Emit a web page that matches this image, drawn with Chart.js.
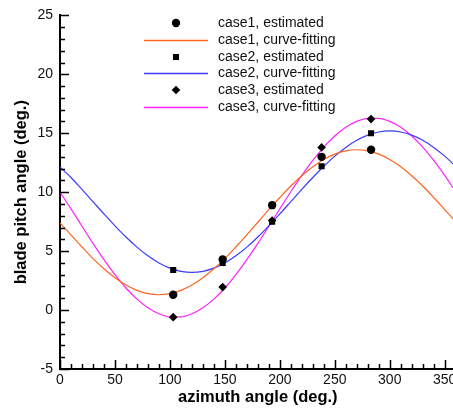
<!DOCTYPE html>
<html>
<head>
<meta charset="utf-8">
<script src="https://cdn.jsdelivr.net/npm/chart.js@4/dist/chart.umd.min.js"></script>
<style>
  html, body { margin: 0; padding: 0; background: #fff; overflow: hidden; }
  #wrap { position: relative; width: 460px; height: 409px; }
</style>
</head>
<body>
<div id="wrap"><canvas id="c"></canvas></div>
<script>
// ---- data ----
const seriesLabels = [
  'case1, estimated', 'case1, curve-fitting',
  'case2, estimated', 'case2, curve-fitting',
  'case3, estimated', 'case3, curve-fitting'
];
const estAzimuth = [103, 148, 193, 238, 283];
const case1Est = [1.3, 4.3, 8.9, 13.0, 13.6];
const case2Est = [3.4, 4.0, 7.5, 12.2, 15.0];
const case3Est = [-0.6, 1.95, 7.6, 13.8, 16.2];

const fitAzimuth = [0, 10, 20, 30, 40, 50, 60, 70, 80, 90, 100, 110, 120, 130, 140, 150, 160, 170, 180,
  190, 200, 210, 220, 230, 240, 250, 260, 270, 280, 290, 300, 310, 320, 330, 340, 350, 360];
const case1Fit = [7.4, 6.38, 5.35, 4.37, 3.5, 2.74, 2.12, 1.67, 1.39, 1.3, 1.39, 1.67, 2.12, 2.74, 3.5, 4.37, 5.35, 6.38, 7.45,
  8.52, 9.55, 10.53, 11.4, 12.16, 12.78, 13.23, 13.51, 13.6, 13.51, 13.23, 12.78, 12.16, 11.4, 10.53, 9.55, 8.52, 7.5];
const case2Fit = [12.15, 11.25, 10.24, 9.2, 8.16, 7.15, 6.2, 5.34, 4.6, 4.0, 3.56, 3.29, 3.2, 3.29, 3.56, 4.0, 4.6, 5.34, 6.2,
  7.15, 8.16, 9.2, 10.24, 11.25, 12.2, 13.06, 13.8, 14.4, 14.84, 15.11, 15.2, 15.11, 14.84, 14.4, 13.8, 13.06, 12.2];
const case3Fit = [10.0, 8.59, 7.11, 5.66, 4.28, 3.0, 1.87, 0.93, 0.19, -0.31, -0.57, -0.57, -0.31, 0.19, 0.93, 1.87, 3.0, 4.28, 5.66,
  7.11, 8.59, 10.04, 11.42, 12.7, 13.83, 14.77, 15.51, 16.01, 16.27, 16.27, 16.01, 15.51, 14.77, 13.83, 12.7, 11.42, 10.04];

const xTickValues = [0, 50, 100, 150, 200, 250, 300, 350];
const yTickValues = [-5, 0, 5, 10, 15, 20, 25];

// ---- build chart ----
const toPts = (xs, ys) => xs.map((x, i) => ({ x: x, y: ys[i] }));
const colors = { c1: '#ff6420', c2: '#3c3cff', c3: '#ff22ff' };

function estSet(label, ys, style, r) {
  return { label, data: toPts(estAzimuth, ys), showLine: false, pointStyle: style,
    pointRadius: r, pointBackgroundColor: '#000', pointBorderColor: '#000', pointBorderWidth: 0, order: 0 };
}
function fitSet(label, ys, color) {
  return { label, data: toPts(fitAzimuth, ys), showLine: true, pointRadius: 0, borderColor: color,
    borderWidth: 1.2, cubicInterpolationMode: 'monotone', order: 1, legendColor: color };
}

const datasets = [
  estSet(seriesLabels[0], case1Est, 'circle', 4.2),
  fitSet(seriesLabels[1], case1Fit, colors.c1),
  estSet(seriesLabels[2], case2Est, 'rect', 4.3),
  fitSet(seriesLabels[3], case2Fit, colors.c2),
  estSet(seriesLabels[4], case3Est, 'rectRot', 4.3),
  fitSet(seriesLabels[5], case3Fit, colors.c3)
];

const tickPlugin = {
  id: 'inwardTicks',
  afterDraw(chart) {
    const ctx = chart.ctx, xs = chart.scales.x, ys = chart.scales.y;
    const ca = chart.chartArea;
    ctx.save();
    ctx.strokeStyle = '#000';
    ctx.lineWidth = 1.5;
    ctx.beginPath();
    for (let v = ys.min; v <= ys.max; v += 1) {
      const y = Math.round(ys.getPixelForValue(v)) + 0.5;
      const len = yTickValues.includes(v) ? 9 : 5;
      ctx.moveTo(ca.left, y); ctx.lineTo(ca.left + len, y);
    }
    for (let v = xs.min; v <= xs.max; v += 10) {
      const x = Math.round(xs.getPixelForValue(v)) + 0.5;
      const len = xTickValues.includes(v) ? 9 : 5;
      ctx.moveTo(x, ca.bottom); ctx.lineTo(x, ca.bottom - len);
    }
    ctx.stroke();
    ctx.restore();
  }
};

const legendPlugin = {
  id: 'innerLegend',
  afterDraw(chart) {
    const ctx = chart.ctx;
    const x0 = 144, x1 = 208, xc = 176, tx = 218, y0 = 23, dy = 16.8;
    ctx.save();
    ctx.font = '14px "Liberation Sans", Arial, sans-serif';
    ctx.textBaseline = 'middle';
    ctx.textAlign = 'left';
    chart.data.datasets.forEach((ds, i) => {
      const y = Math.round(y0 + i * dy);
      if (ds.showLine) {
        ctx.strokeStyle = ds.legendColor;
        ctx.lineWidth = 1.3;
        ctx.beginPath(); ctx.moveTo(x0, y + 0.5); ctx.lineTo(x1, y + 0.5); ctx.stroke();
      } else {
        ctx.fillStyle = '#000';
        const r = ds.pointRadius;
        ctx.beginPath();
        if (ds.pointStyle === 'circle') {
          ctx.arc(xc, y, r, 0, Math.PI * 2);
        } else if (ds.pointStyle === 'rect') {
          const s = r * Math.SQRT1_2;
          ctx.rect(xc - s, y - s, 2 * s, 2 * s);
        } else {
          ctx.moveTo(xc, y - r); ctx.lineTo(xc + r, y); ctx.lineTo(xc, y + r); ctx.lineTo(xc - r, y); ctx.closePath();
        }
        ctx.fill();
      }
      ctx.fillStyle = '#111';
      ctx.fillText(ds.label, tx, y + 0.5);
    });
    ctx.restore();
  }
};

const tickFont = { family: '"Liberation Sans", Arial, sans-serif', size: 14 };
const titleFont = { family: '"Liberation Sans", Arial, sans-serif', size: 16.5, weight: 'bold' };

new Chart(document.getElementById('c'), {
  type: 'scatter',
  data: { datasets },
  options: {
    responsive: true,
    maintainAspectRatio: false,
    animation: false,
    layout: { padding: { top: 8, right: 0, left: 0, bottom: 0 } },
    plugins: { legend: { display: false }, tooltip: { enabled: false } },
    scales: {
      x: {
        type: 'linear', min: 0, max: 360,
        ticks: { color: '#111', font: tickFont, padding: 3, maxRotation: 0, autoSkip: false },
        afterBuildTicks: s => { s.ticks = xTickValues.map(v => ({ value: v })); },
        grid: { display: false, drawTicks: false },
        border: { display: true, color: '#000', width: 2 },
        title: { display: true, text: 'azimuth angle (deg.)', color: '#000', font: titleFont, padding: { top: 0, bottom: 2 } },
        afterFit: s => { s.height = 40; }
      },
      y: {
        type: 'linear', min: -5, max: 25,
        ticks: { color: '#111', font: tickFont, padding: 7, autoSkip: false },
        afterBuildTicks: s => { s.ticks = yTickValues.map(v => ({ value: v })); },
        grid: { display: false, drawTicks: false },
        border: { display: true, color: '#000', width: 2 },
        title: { display: true, text: 'blade pitch angle (deg.)', color: '#000', font: titleFont, padding: { top: 12, bottom: 0 } },
        afterFit: s => { s.width = 60; }
      }
    }
  },
  plugins: [tickPlugin, legendPlugin]
});
</script>
</body>
</html>
